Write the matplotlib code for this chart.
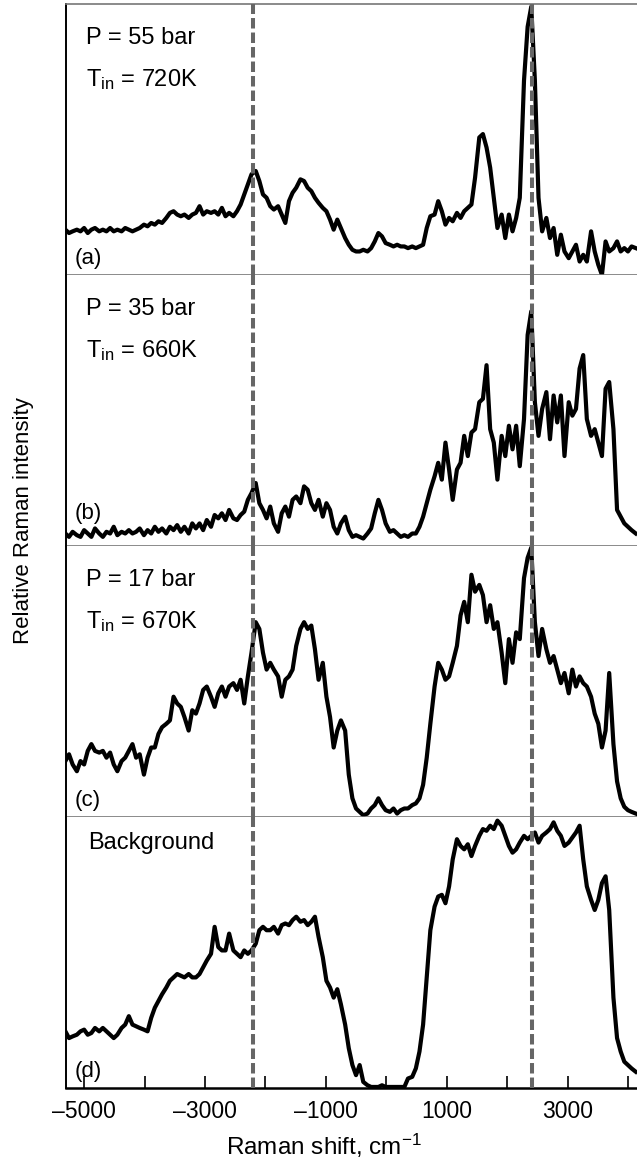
import matplotlib.pyplot as plt
from matplotlib.ticker import FixedLocator, FixedFormatter

plt.rcParams['font.family'] = ['Liberation Sans', 'DejaVu Sans']
plt.rcParams['mathtext.fontset'] = 'custom'
plt.rcParams['mathtext.rm'] = 'Liberation Sans'
plt.rcParams['mathtext.it'] = 'Liberation Sans'

# Raman shift (cm-1)
shift = [-5310, -5250, -5190, -5120, -5060, -5000, -4940, -4880, -4820, -4750,
         -4690, -4630, -4570, -4510, -4450, -4380, -4320, -4260, -4200, -4140,
         -4080, -4010, -3950, -3890, -3830, -3770, -3710, -3640, -3580, -3520,
         -3460, -3400, -3340, -3270, -3210, -3150, -3090, -3030, -2970, -2900,
         -2840, -2780, -2720, -2660, -2600, -2530, -2470, -2410, -2350, -2290,
         -2230, -2160, -2100, -2040, -1980, -1920, -1860, -1790, -1730, -1670,
         -1610, -1550, -1490, -1420, -1360, -1300, -1240, -1180, -1120, -1050,
         -990, -930, -870, -810, -750, -680, -620, -560, -500, -440,
         -380, -310, -250, -190, -130, -70, -10, 60, 120, 180,
         240, 300, 360, 430, 490, 550, 610, 670, 730, 800,
         860, 920, 980, 1040, 1100, 1170, 1230, 1290, 1350, 1410,
         1470, 1540, 1600, 1660, 1720, 1780, 1840, 1910, 1970, 2030,
         2090, 2150, 2210, 2280, 2340, 2400, 2460, 2520, 2580, 2650,
         2710, 2770, 2830, 2890, 2950, 3020, 3080, 3140, 3200, 3260,
         3320, 3390, 3450, 3510, 3570, 3630, 3690, 3760, 3820, 3880,
         3940, 4000, 4060, 4130]

# relative intensity, arbitrary units
spec_a = [135, 125, 130, 135, 130, 140, 125, 135, 140, 130,
          135, 130, 140, 130, 135, 130, 140, 135, 130, 135,
          140, 150, 145, 155, 150, 160, 155, 170, 185, 190,
          180, 175, 180, 170, 180, 185, 205, 180, 190, 185,
          190, 180, 200, 175, 185, 175, 190, 210, 240, 270,
          300, 310, 280, 240, 230, 205, 195, 205, 180, 155,
          220, 245, 260, 285, 280, 260, 250, 230, 215, 200,
          190, 165, 135, 165, 140, 110, 90, 75, 70, 70,
          75, 70, 80, 100, 125, 115, 95, 90, 85, 90,
          85, 85, 80, 85, 80, 85, 90, 140, 175, 180,
          220, 190, 150, 170, 160, 185, 170, 190, 200, 210,
          290, 410, 420, 380, 320, 230, 140, 180, 110, 180,
          130, 170, 230, 580, 740, 800, 580, 230, 130, 170,
          110, 140, 60, 120, 70, 50, 70, 90, 40, 60,
          40, 130, 70, 30, 0, 100, 70, 80, 100, 70,
          80, 70, 85, 80]

spec_b = [37, 27, 42, 32, 27, 47, 37, 27, 52, 37,
          27, 42, 37, 57, 32, 42, 37, 47, 37, 42,
          52, 32, 47, 37, 57, 42, 52, 37, 57, 47,
          62, 42, 57, 37, 67, 52, 67, 47, 77, 57,
          92, 82, 97, 77, 107, 82, 77, 92, 102, 137,
          157, 187, 127, 107, 82, 117, 67, 42, 97, 117,
          87, 137, 147, 127, 177, 167, 127, 107, 137, 87,
          127, 107, 57, 37, 67, 87, 47, 27, 32, 27,
          22, 37, 52, 97, 137, 107, 67, 42, 47, 37,
          27, 32, 27, 37, 37, 57, 87, 127, 167, 207,
          247, 197, 307, 227, 137, 227, 247, 327, 267, 337,
          347, 427, 437, 537, 347, 307, 197, 327, 267, 357,
          287, 357, 237, 377, 627, 697, 427, 327, 407, 457,
          317, 447, 367, 447, 267, 427, 387, 407, 527, 567,
          377, 327, 347, 307, 267, 467, 487, 347, 107, 87,
          67, 57, 47, 37]

spec_c = [165, 185, 155, 135, 165, 155, 195, 215, 195, 190,
          195, 175, 190, 155, 135, 165, 175, 195, 215, 175,
          185, 125, 175, 205, 205, 245, 265, 275, 285, 355,
          335, 325, 295, 255, 315, 305, 335, 375, 385, 355,
          325, 365, 385, 355, 385, 395, 375, 405, 335, 415,
          485, 575, 555, 485, 435, 455, 435, 415, 355, 405,
          415, 435, 505, 555, 575, 555, 565, 495, 405, 455,
          355, 295, 205, 255, 285, 255, 125, 55, 25, 15,
          5, 10, 25, 35, 55, 35, 20, 15, 25, 10,
          20, 25, 25, 35, 40, 55, 95, 175, 275, 385,
          455, 435, 405, 415, 455, 505, 595, 635, 575, 715,
          665, 685, 655, 575, 625, 555, 575, 485, 395, 525,
          455, 545, 525, 705, 765, 795, 575, 475, 555, 495,
          455, 475, 435, 395, 425, 365, 435, 385, 415, 395,
          385, 355, 305, 275, 205, 255, 425, 215, 105, 55,
          30, 20, 15, 10]

spec_d = [168, 148, 153, 158, 168, 173, 158, 163, 178, 168,
          178, 168, 158, 148, 158, 178, 188, 213, 188, 183,
          178, 173, 168, 208, 238, 258, 278, 298, 318, 328,
          338, 333, 328, 338, 328, 328, 338, 358, 378, 398,
          478, 418, 408, 408, 458, 408, 398, 388, 408, 398,
          408, 428, 468, 478, 468, 468, 478, 458, 483, 488,
          483, 498, 508, 493, 498, 483, 493, 508, 448, 388,
          318, 298, 268, 293, 248, 188, 118, 68, 38, 68,
          18, 8, 3, 3, 3, 8, 3, 3, 3, 3,
          3, 3, 28, 33, 58, 108, 188, 328, 468, 538,
          568, 573, 548, 598, 678, 738, 718, 708, 723, 688,
          718, 748, 768, 763, 778, 768, 793, 778, 748, 718,
          698, 708, 728, 748, 738, 748, 758, 728, 748, 758,
          768, 788, 763, 748, 718, 728, 743, 758, 778, 678,
          598, 558, 528, 558, 608, 628, 528, 268, 148, 108,
          78, 68, 58, 48]

spectra = [spec_a, spec_b, spec_c, spec_d]
tops = [808, 805, 800, 804]
panel_tags = ["(a)", "(b)", "(c)", "(d)"]
pressures = ["P = 55 bar", "P = 35 bar", "P = 17 bar"]
temps = ["720K", "660K", "670K"]
marker_lines = [-2200, 2420]

major_ticks = [-5000, -3000, -1000, 1000, 3000]
major_labels = ["\u20135000", "\u20133000", "\u20131000", "1000", "3000"]
minor_ticks = [-4000, -2000, 0, 2000, 4000]

fig = plt.figure(figsize=(6.37, 11.6), dpi=100)
gs = fig.add_gridspec(4, 1, left=0.1036, right=1.0, top=0.9966, bottom=0.0621, hspace=0)

axes = []
for i in range(4):
    ax = fig.add_subplot(gs[i])
    axes.append(ax)
    ax.plot(shift, spectra[i], color="black", lw=3.0, zorder=2)
    for xv in marker_lines:
        ax.axvline(xv, color="#666666", lw=2.9, dashes=(2.6, 1.0), zorder=3)
    ax.set_xlim(-5300, 4150)
    ax.set_ylim(0, tops[i])
    ax.set_yticks([])

    ax.spines["right"].set_visible(False)
    ax.spines["left"].set_linewidth(1.4)
    if i == 0:
        ax.spines["top"].set_color("#777777")
        ax.spines["top"].set_linewidth(1.2)
    else:
        ax.spines["top"].set_visible(False)
    if i < 3:
        ax.spines["bottom"].set_color("#777777")
        ax.spines["bottom"].set_linewidth(1.2)
        ax.tick_params(axis="x", which="both", bottom=False, labelbottom=False)
    else:
        ax.spines["bottom"].set_linewidth(1.8)
        ax.xaxis.set_major_locator(FixedLocator(major_ticks))
        ax.xaxis.set_major_formatter(FixedFormatter(major_labels))
        ax.xaxis.set_minor_locator(FixedLocator(minor_ticks))
        ax.tick_params(axis="x", which="both", direction="in", length=9, width=1.2,
                       labelsize=16.5, pad=9)

    ax.text(0.015, 0.06 if i != 1 else 0.12, panel_tags[i], transform=ax.transAxes,
            fontsize=16, ha="left", va="center")

    if i < 3:
        ax.text(0.035, 0.875, pressures[i], transform=ax.transAxes,
                fontsize=17, ha="left", va="center")
        ax.text(0.035, 0.72, "T$_{\\mathrm{in}}$ = " + temps[i], transform=ax.transAxes,
                fontsize=17, ha="left", va="center")
    else:
        ax.text(0.038, 0.905, "Background", transform=ax.transAxes,
                fontsize=17, ha="left", va="center")

# axis labels
fig.text(324 / 637, 1 - 1146 / 1160, "Raman shift, cm$^{-1}$", fontsize=17.5,
         ha="center", va="center")
fig.text(24 / 637, 1 - 521 / 1160, "Relative Raman intensity", fontsize=16,
         rotation=90, ha="center", va="center")

plt.savefig("out.png", dpi=100)
